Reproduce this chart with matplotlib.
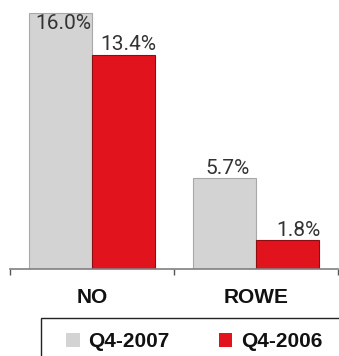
import matplotlib
matplotlib.use("Agg")
from matplotlib import pyplot as plt
from matplotlib.patches import Rectangle
import numpy as np

# Share by region, two quarters
regions = ["NO", "ROWE"]
q4_2007 = [16.0, 5.7]
q4_2006 = [13.4, 1.8]
series_names = ["Q4-2007", "Q4-2006"]

GREY = "#d3d3d3"
RED = "#e1131d"

W, H = 339, 356
fig = plt.figure(figsize=(W / 100, H / 100), dpi=100)
ax = fig.add_axes([10 / W, 87 / H, 328 / W, 269 / H])

x = np.arange(len(regions))
bw = 0.385
b07 = ax.bar(x, q4_2007, width=-bw, align="edge", color=GREY,
             edgecolor="#a8a8a8", linewidth=0.8, label=series_names[0])
b06 = ax.bar(x, q4_2006, width=bw, align="edge", color=RED,
             edgecolor="#8e0d12", linewidth=0.8, label=series_names[1])

ax.set_xlim(-0.5, 1.5)
ax.set_ylim(0, 269 / 16)

# value labels
lab_font = dict(family="Roboto", fontsize=15, color="#333333")
for xi, v in zip(x, q4_2007):
    if v > 15:
        ax.annotate(f"{v:.1f}%", (xi - bw / 2, v), xytext=(2, -1),
                    textcoords="offset points", ha="center", va="top", **lab_font)
    else:
        ax.annotate(f"{v:.1f}%", (xi - bw / 2, v), xytext=(2, 3),
                    textcoords="offset points", ha="center", va="baseline", **lab_font)
for xi, v in zip(x, q4_2006):
    ax.annotate(f"{v:.1f}%", (xi + bw, v), xytext=(1, 3),
                textcoords="offset points", ha="right", va="baseline", **lab_font)

# axis styling: only the baseline, ticks between groups
for s in ["top", "right", "left"]:
    ax.spines[s].set_visible(False)
ax.spines["bottom"].set_color("#808080")
ax.spines["bottom"].set_linewidth(1.2)
ax.set_yticks([])
ax.set_xticks([-0.5, 0.5, 1.5])
ax.set_xticklabels([])
ax.tick_params(axis="x", direction="out", length=4, width=1, color="#555555")

for xi, name in zip(x, regions):
    ax.annotate(name, (xi, 0), xytext=(0, -24.5), textcoords="offset points",
                ha="center", va="baseline", family="Liberation Sans",
                fontweight="bold", fontsize=15, color="#111111", annotation_clip=False)

# legend with an open box running off the edge
leg = fig.legend(handles=[b07, b06], labels=series_names, ncol=2,
                 loc="upper left", bbox_to_anchor=(66 / W, 1 - 332 / H),
                 frameon=False, borderpad=0, borderaxespad=0,
                 handlelength=0.67, handleheight=0.67, handletextpad=0.4,
                 columnspacing=2.35,
                 prop=dict(family="Liberation Sans", weight="bold", size=15))
for t in leg.get_texts():
    t.set_color("#111111")
for h in leg.legend_handles:
    h.set_edgecolor("none")

fig.patches.append(Rectangle((41 / W, -0.1), 1.0, (356 - 318) / H + 0.1,
                             transform=fig.transFigure, fill=False,
                             edgecolor="#222222", linewidth=1))

fig.savefig("out.png", dpi=100)
